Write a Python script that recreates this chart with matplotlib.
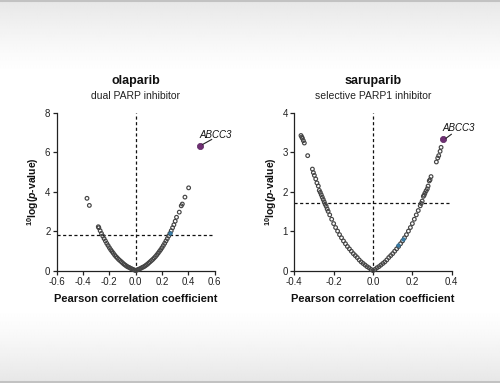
import numpy as np
import matplotlib
matplotlib.use('Agg')
import matplotlib.pyplot as plt
from matplotlib.lines import Line2D

plt.rcParams['font.family'] = ['Liberation Sans', 'DejaVu Sans']
plt.rcParams['axes.unicode_minus'] = False
plt.rcParams['mathtext.fontset'] = 'custom'
plt.rcParams['mathtext.rm'] = 'Liberation Sans:bold'
plt.rcParams['mathtext.it'] = 'Liberation Sans:italic:bold'
plt.rcParams['mathtext.bf'] = 'Liberation Sans:bold'

# ---------------- data ----------------
drugs = ["olaparib", "saruparib"]
subtitles = ["dual PARP inhibitor", "selective PARP1 inhibitor"]

ola_r = [-0.370, -0.352, -0.284, -0.280, -0.270, -0.260, -0.250, -0.240, -0.230, -0.220,
         -0.210, -0.200, -0.190, -0.180, -0.170, -0.160, -0.150, -0.140, -0.130, -0.120,
         -0.110, -0.100, -0.090, -0.080, -0.070, -0.060, -0.050, -0.040, -0.030, -0.020,
         -0.010, 0.000,
         0.010, 0.020, 0.030, 0.040, 0.050, 0.060, 0.070, 0.080, 0.090, 0.100,
         0.110, 0.120, 0.130, 0.140, 0.150, 0.160, 0.170, 0.180, 0.190, 0.200,
         0.210, 0.220, 0.230, 0.240, 0.250, 0.260, 0.270, 0.280, 0.290, 0.300,
         0.310, 0.331, 0.346, 0.354, 0.374, 0.402]
ola_logp = [3.66, 3.30, 2.22, 2.17, 2.02, 1.88, 1.75, 1.62, 1.50, 1.38,
            1.27, 1.16, 1.06, 0.97, 0.88, 0.79, 0.71, 0.64, 0.57, 0.51,
            0.45, 0.39, 0.33, 0.28, 0.23, 0.19, 0.16, 0.12, 0.09, 0.06,
            0.03, 0.00,
            0.03, 0.06, 0.09, 0.12, 0.16, 0.19, 0.23, 0.28, 0.33, 0.39,
            0.45, 0.51, 0.57, 0.64, 0.71, 0.79, 0.88, 0.97, 1.06, 1.16,
            1.27, 1.38, 1.50, 1.62, 1.75, 1.88, 2.02, 2.17, 2.32, 2.50,
            2.70, 2.96, 3.28, 3.37, 3.72, 4.19]
ola_blue_r = [0.263]
ola_blue_logp = [1.88]
ola_hit = (0.491, 6.29)
ola_threshold = 1.81

sar_r = [-0.366, -0.362, -0.359, -0.354, -0.349, -0.332, -0.308, -0.303, -0.298, -0.291,
         -0.285, -0.278, -0.273, -0.268, -0.263, -0.258, -0.253, -0.248, -0.243, -0.238,
         -0.233, -0.228, -0.220, -0.210, -0.200, -0.190, -0.180, -0.170, -0.160, -0.150,
         -0.140, -0.130, -0.120, -0.110, -0.100, -0.090, -0.080, -0.070, -0.060, -0.050,
         -0.040, -0.030, -0.020, -0.010, 0.000,
         0.010, 0.020, 0.030, 0.040, 0.050, 0.060, 0.070, 0.080, 0.090, 0.100,
         0.110, 0.120, 0.130, 0.140, 0.150, 0.160, 0.170, 0.180, 0.190, 0.200,
         0.210, 0.220, 0.230, 0.240, 0.245, 0.250, 0.256, 0.260, 0.264, 0.270,
         0.276, 0.280, 0.286, 0.290, 0.295, 0.322, 0.329, 0.334, 0.341, 0.346]
sar_logp = [3.42, 3.38, 3.35, 3.29, 3.23, 2.91, 2.57, 2.48, 2.41, 2.32,
            2.22, 2.14, 2.03, 1.98, 1.92, 1.86, 1.80, 1.74, 1.68, 1.63,
            1.56, 1.50, 1.41, 1.30, 1.19, 1.09, 1.00, 0.91, 0.83, 0.75,
            0.68, 0.61, 0.55, 0.49, 0.43, 0.38, 0.33, 0.27, 0.22, 0.18,
            0.14, 0.10, 0.07, 0.03, 0.00,
            0.03, 0.07, 0.10, 0.14, 0.18, 0.22, 0.27, 0.33, 0.38, 0.43,
            0.49, 0.55, 0.61, 0.68, 0.75, 0.83, 0.91, 1.00, 1.09, 1.19,
            1.30, 1.41, 1.52, 1.64, 1.70, 1.76, 1.88, 1.91, 1.96, 2.02,
            2.07, 2.14, 2.27, 2.30, 2.38, 2.75, 2.85, 2.91, 3.02, 3.12]
sar_blue_r = [0.129, 0.151]
sar_blue_logp = [0.65, 0.80]
sar_hit = (0.354, 3.33)
sar_threshold = 1.70

hit_gene = "ABCC3"
xticks_list = [[-0.6, -0.4, -0.2, 0.0, 0.2, 0.4, 0.6], [-0.4, -0.2, 0.0, 0.2, 0.4]]
yticks_list = [[0, 2, 4, 6, 8], [0, 1, 2, 3, 4]]

# ---------------- figure ----------------
W, H = 500, 383
fig = plt.figure(figsize=(W / 100, H / 100), dpi=100)

# background gradient (grey at top/bottom edges, white in middle)
bg = fig.add_axes([0, 0, 1, 1], zorder=-10)
bg.axis('off')
rows = np.arange(H)
d = np.minimum(rows, H - 1 - rows)
shade = 1.0 - 0.095 * np.clip(1 - d / 75.0, 0, 1) ** 1.3
img = np.repeat(shade[:, None], 10, axis=1)
bg.imshow(img, cmap='gray', vmin=0, vmax=1, aspect='auto', extent=[0, 1, 0, 1],
          interpolation='bilinear')
bg.set_xlim(0, 1)
bg.set_ylim(0, 1)
fig.add_artist(Line2D([0, 1], [1 - 1.0 / H] * 2, color='#c2c2c2', lw=1.5))
fig.add_artist(Line2D([0, 1], [1.0 / H] * 2, color='#c2c2c2', lw=1.5))

axes_rects = [[56.7 / W, 1 - 270.6 / H, 158 / W, 158 / H],
              [294.3 / W, 1 - 270.6 / H, 157.4 / W, 158 / H]]

panels = [
    (ola_r, ola_logp, ola_blue_r, ola_blue_logp, ola_hit, ola_threshold,
     ((0.509, 6.39), (0.577, 6.64)), (0.608, 6.88)),
    (sar_r, sar_logp, sar_blue_r, sar_blue_logp, sar_hit, sar_threshold,
     ((0.371, 3.35), (0.398, 3.45)), (0.436, 3.62)),
]

for i, (rx, ry, bx, by, hit, thr, seg, tpos) in enumerate(panels):
    ax = fig.add_axes(axes_rects[i])
    ax.set_facecolor('none')
    xt = xticks_list[i]
    yt = yticks_list[i]
    ax.set_xlim(xt[0], xt[-1])
    ax.set_ylim(yt[0], yt[-1])
    ax.set_xticks(xt)
    ax.set_yticks(yt)
    ax.set_xticklabels([f"{v:.1f}" for v in xt])
    ax.set_yticklabels([f"{v}" for v in yt])
    for s in ['top', 'right']:
        ax.spines[s].set_visible(False)
    for s in ['left', 'bottom']:
        ax.spines[s].set_linewidth(0.9)
        ax.spines[s].set_color('#222222')
    ax.tick_params(direction='out', length=3, width=0.9, labelsize=7,
                   colors='#222222', pad=1.5)

    ax.axvline(0, color='#111111', lw=0.9, ls=(0, (2.5, 2)), zorder=2)
    ax.axhline(thr, color='#111111', lw=0.9, ls=(0, (2.5, 2)), zorder=2)

    ax.scatter(rx, ry, s=7, facecolor='none', edgecolor='#444444',
               linewidths=0.85, clip_on=False, zorder=3)
    ax.scatter(bx, by, s=6, facecolor='#3b7fa8', edgecolor='#2d6f99',
               linewidths=0.6, clip_on=False, zorder=4)
    ax.scatter([hit[0]], [hit[1]], s=20, facecolor='#6e2f72', edgecolor='#5a2560',
               linewidths=0.5, clip_on=False, zorder=5)
    ax.plot([seg[0][0], seg[1][0]], [seg[0][1], seg[1][1]], color='#222222', lw=0.8,
            clip_on=False, zorder=5)
    ax.text(tpos[0], tpos[1], hit_gene, fontsize=7, style='italic', ha='center',
            va='center', color='#111111', clip_on=False)

    ax.text(0.5, 1.2, drugs[i], transform=ax.transAxes, ha='center', va='center',
            fontsize=9, fontweight='bold', color='#111111')
    ax.text(0.5, 1.105, subtitles[i], transform=ax.transAxes, ha='center', va='center',
            fontsize=7.5, color='#222222')

    ax.set_xlabel("Pearson correlation coefficient", fontsize=8, fontweight='bold',
                  color='#111111')
    ax.xaxis.set_label_coords(0.5, -0.15)
    ax.set_ylabel(r"$^{10}$log($\mathit{p}$-value)", fontsize=7.5, fontweight='bold',
                  color='#111111')
    ax.yaxis.set_label_coords(-0.10, 0.5)

fig.savefig('out.png', dpi=100)
